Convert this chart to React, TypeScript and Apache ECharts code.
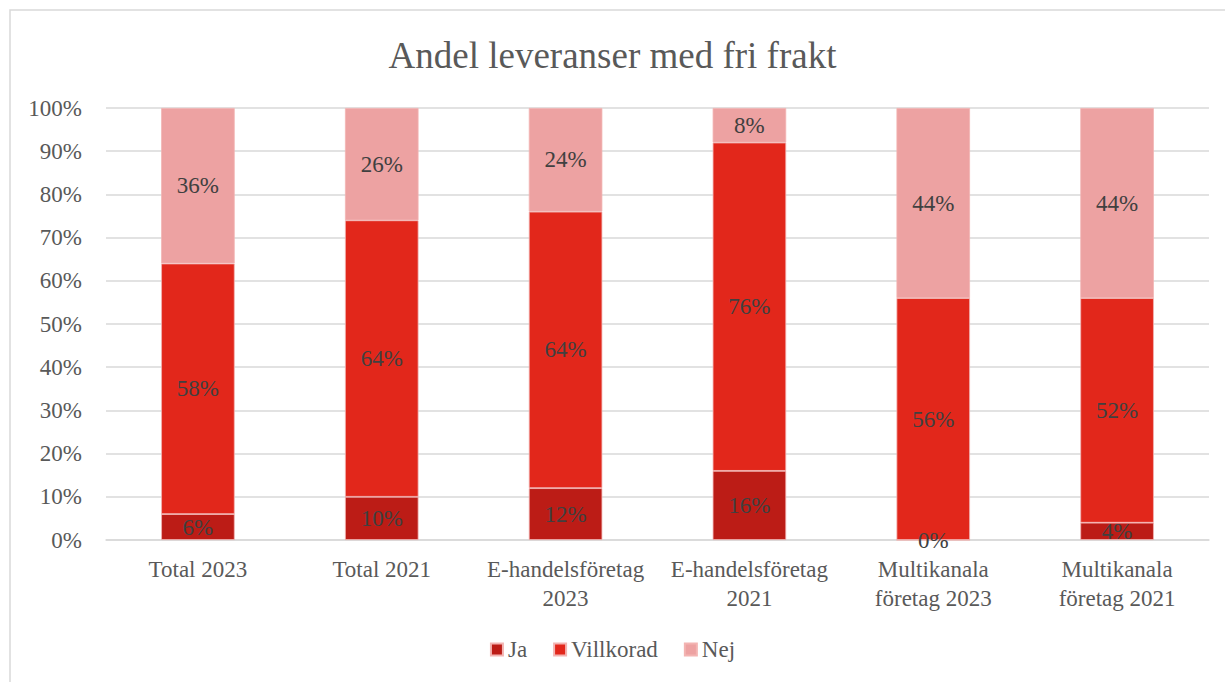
import React, { useEffect, useRef } from "react";
import * as echarts from "echarts";

const categories = [
  "Total 2023",
  "Total 2021",
  "E-handelsföretag\n2023",
  "E-handelsföretag\n2021",
  "Multikanala\nföretag 2023",
  "Multikanala\nföretag 2021",
];
const ja = [6, 10, 12, 16, 0, 4];
const villkorad = [58, 64, 64, 76, 56, 52];
const nej = [36, 26, 24, 8, 44, 44];
const seriesNames = ["Ja", "Villkorad", "Nej"];
const seriesColors = ["#BC1C16", "#E2271B", "#EDA2A2"];

const FONT = "'Liberation Serif', 'DejaVu Serif', serif";

export default function App() {
  const ref = useRef<HTMLDivElement>(null);
  useEffect(() => {
    if (!ref.current) return;
    const chart = echarts.init(ref.current, undefined, { renderer: "svg" });
    const data = [ja, villkorad, nej];
    chart.setOption({
      animation: false,
      backgroundColor: "#ffffff",
      textStyle: { fontFamily: FONT },
      title: {
        text: "Andel leveranser med fri frakt",
        left: "center",
        top: 32,
        textStyle: { fontFamily: FONT, fontSize: 37, fontWeight: "normal", color: "#595959" },
      },
      graphic: [
        {
          type: "rect",
          shape: { x: 10, y: 10, width: 1240, height: 700 },
          style: { fill: "none", stroke: "#d9d9d9", lineWidth: 1.5 },
          silent: true,
        },
      ],
      legend: {
        bottom: 16,
        left: "center",
        itemWidth: 12,
        itemHeight: 12,
        itemGap: 26,
        icon: "rect",
        textStyle: { fontFamily: FONT, fontSize: 23, color: "#595959" },
        data: seriesNames,
      },
      grid: { left: 106, right: 16, top: 108, bottom: 142, containLabel: false },
      xAxis: {
        type: "category",
        data: categories,
        axisLine: { lineStyle: { color: "#d9d9d9", width: 1.5 } },
        axisTick: { show: false },
        axisLabel: {
          fontFamily: FONT,
          fontSize: 23,
          color: "#595959",
          margin: 15,
          lineHeight: 29,
          interval: 0,
        },
      },
      yAxis: {
        type: "value",
        min: 0,
        max: 100,
        interval: 10,
        axisLine: { show: false },
        axisTick: { show: false },
        splitLine: { lineStyle: { color: "#d9d9d9", width: 1.5 } },
        axisLabel: {
          fontFamily: FONT,
          fontSize: 23,
          color: "#595959",
          margin: 24,
          formatter: (v: number) => v + "%",
        },
      },
      series: seriesNames.map((name, i) => ({
        name,
        type: "bar",
        stack: "total",
        barWidth: "40%",
        data: data[i],
        itemStyle: { color: seriesColors[i], borderColor: "#F3B4B2", borderWidth: 0.8 },
        label: {
          show: true,
          position: "inside",
          fontFamily: FONT,
          fontSize: 23,
          color: "#404040",
          formatter: (p: any) => p.value + "%",
        },
      })),
    });
    return () => chart.dispose();
  }, []);
  return (
    <div
      ref={ref}
      style={{ position: "absolute", left: 0, top: 0, width: 1225, height: 682 }}
    />
  );
}
